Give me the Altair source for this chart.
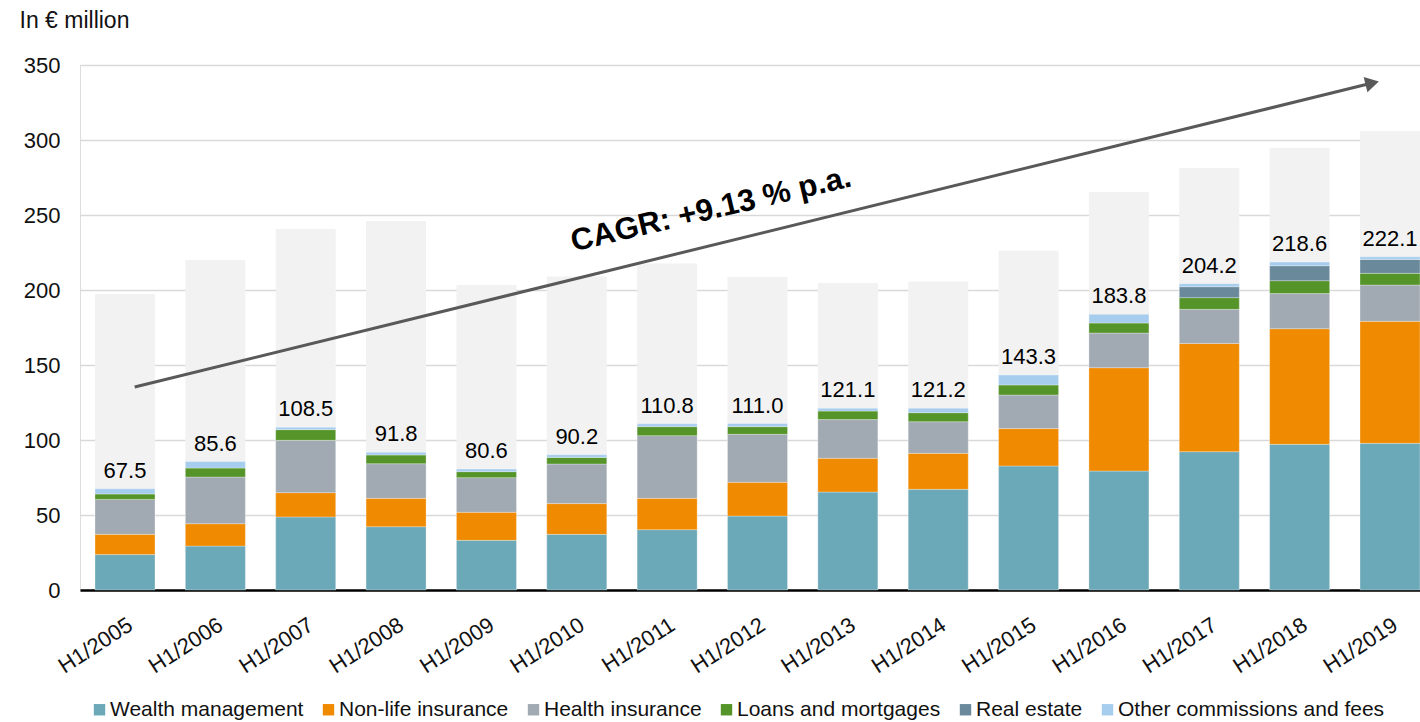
import altair as alt
import pandas as pd

# Half-year periods on the x axis
periods = [
    "H1/2005", "H1/2006", "H1/2007", "H1/2008", "H1/2009",
    "H1/2010", "H1/2011", "H1/2012", "H1/2013", "H1/2014",
    "H1/2015", "H1/2016", "H1/2017", "H1/2018", "H1/2019",
]

# Commission income by source, in EUR million
wealth = [23.6, 29.3, 48.7, 42.2, 33.1, 37.1, 40.2, 49.3, 65.3, 67.1, 82.7, 79.3, 92.2, 97.1, 97.8]
nonlife = [13.5, 14.9, 16.2, 18.9, 18.7, 20.5, 20.9, 22.5, 22.5, 24.0, 24.9, 68.9, 72.2, 77.1, 81.3]
health = [23.3, 31.1, 34.9, 23.1, 23.1, 26.4, 41.8, 32.0, 25.8, 21.1, 22.4, 23.1, 22.7, 23.4, 24.2]
loans = [3.6, 6.0, 7.1, 5.8, 4.0, 4.4, 6.0, 5.1, 5.7, 6.0, 6.7, 6.7, 7.8, 8.6, 7.8]
real_estate = [0.0, 0.0, 0.0, 0.0, 0.0, 0.0, 0.0, 0.0, 0.0, 0.0, 0.0, 0.0, 7.3, 10.0, 9.3]
other = [3.5, 4.3, 1.6, 1.8, 1.7, 1.8, 1.9, 2.1, 1.8, 3.0, 6.6, 5.8, 2.0, 2.4, 1.7]

# Light backdrop column behind each stack
backdrop = [197.3, 220.0, 240.7, 246.0, 203.3, 209.0, 217.6, 208.7, 204.7, 205.6, 226.2, 265.3, 281.3, 294.9, 306.0]

series_names = [
    "Wealth management", "Non-life insurance", "Health insurance",
    "Loans and mortgages", "Real estate", "Other commissions and fees",
]
series_colors = ["#6ba8b8", "#f08a00", "#a1aab2", "#559429", "#6a8a9c", "#a7cdee"]
series_values = [wealth, nonlife, health, loans, real_estate, other]

# Growth arrow and its caption
arrow_from = ["H1/2005", 135.3]
arrow_to = ["H1/2019", 339.1]
cagr_text = "CAGR: +9.13 % p.a."
cagr_anchor = ["H1/2011", 253.3]

FONT = "Liberation Sans"

rows = []
for i, p in enumerate(periods):
    for k, (name, vals) in enumerate(zip(series_names, series_values)):
        if vals[i] > 0:
            rows.append({"period": p, "segment": name, "value": vals[i], "order": k})
stack_df = pd.DataFrame(rows)

totals = [round(sum(v[i] for v in series_values), 1) for i in range(len(periods))]
total_df = pd.DataFrame({"period": periods, "total": totals, "backdrop": backdrop})

arrow_df = pd.DataFrame({
    "x0": [arrow_from[0]], "y0": [arrow_from[1]],
    "x1": [arrow_to[0]], "y1": [arrow_to[1]],
})
cagr_df = pd.DataFrame({"px": [cagr_anchor[0]], "py": [cagr_anchor[1]], "label": [cagr_text]})

x_scale = alt.Scale(domain=periods, paddingInner=0.336, paddingOuter=0.083, align=1)
y_scale = alt.Scale(domain=[0, 350], nice=False)

x_axis = alt.Axis(
    title=None, labelAngle=327, labelAlign="right", labelBaseline="top",
    labelFontSize=22, labelFont=FONT, labelColor="#111111", labelPadding=24,
    ticks=False, tickSize=0, domainColor="#000000", domainWidth=2.5, grid=False,
)
y_axis = alt.Axis(
    title="In € million", titleAngle=0, titleAlign="left", titleBaseline="middle",
    titleX=-61, titleY=-45, titleFont=FONT, titleFontSize=23, titleFontWeight="normal",
    titleColor="#111111",
    values=[0, 50, 100, 150, 200, 250, 300, 350],
    labelFontSize=22, labelFont=FONT, labelColor="#111111", labelPadding=20,
    ticks=False, tickSize=0, domain=False,
    grid=True, gridColor="#d9d9d9", gridWidth=1.5,
)

X = lambda f: alt.X(f, type="nominal", scale=x_scale, axis=x_axis, sort=periods)

backdrop_bars = alt.Chart(total_df).mark_bar(color="#f2f2f2").encode(
    x=X("period"),
    y=alt.Y("backdrop:Q", scale=y_scale, axis=y_axis),
)

stacked = alt.Chart(stack_df).mark_bar(stroke="#ffffff", strokeWidth=0.5, strokeOpacity=0.6).encode(
    x=X("period"),
    y=alt.Y("value:Q", stack="zero", scale=y_scale, axis=y_axis),
    color=alt.Color(
        "segment:N",
        scale=alt.Scale(domain=series_names, range=series_colors),
        legend=alt.Legend(
            title=None, orient="none", direction="horizontal", columns=6,
            legendX=9, legendY=634, symbolType="square", symbolSize=130,
            symbolStrokeWidth=0, labelFont=FONT, labelFontSize=21, labelLimit=500,
            labelColor="#111111", labelOffset=0, columnPadding=14,
        ),
    ),
    order=alt.Order("order:Q", sort="ascending"),
)

total_labels = alt.Chart(total_df).mark_text(
    fontSize=22, font=FONT, color="#000000", baseline="alphabetic", dy=-11
).encode(
    x=X("period"),
    y=alt.Y("total:Q", scale=y_scale, axis=y_axis),
    text=alt.Text("total:Q", format=".1f"),
)

arrow_line = alt.Chart(arrow_df).mark_rule(
    color="#595959", strokeWidth=3, xOffset=9.7, x2Offset=-17.8, y2Offset=1.7
).encode(
    x=alt.X("x0:N", scale=x_scale, axis=x_axis, sort=periods, bandPosition=0.5),
    x2=alt.X2("x1", bandPosition=0.5),
    y=alt.Y("y0:Q", scale=y_scale, axis=y_axis),
    y2="y1:Q",
)

arrow_head = alt.Chart(arrow_df).mark_point(
    shape="triangle-up", size=250, filled=True, color="#595959", opacity=1,
    strokeWidth=0, angle=76.2, xOffset=-17.8, yOffset=1.7,
).encode(
    x=X("x1"),
    y=alt.Y("y1:Q", scale=y_scale, axis=y_axis),
)

cagr_label = alt.Chart(cagr_df).mark_text(
    font=FONT, fontSize=31, fontWeight="bold", color="#000000",
    align="center", baseline="middle", angle=346.8, xOffset=44,
).encode(
    x=X("px"),
    y=alt.Y("py:Q", scale=y_scale, axis=y_axis),
    text="label:N",
)

chart = alt.layer(
    backdrop_bars, stacked, total_labels, arrow_line, arrow_head, cagr_label
).properties(
    width=1340, height=525,
    autosize=alt.AutoSizeParams(type="none"),
    padding={"left": 80, "top": 65, "right": 0, "bottom": 132},
).configure_view(stroke=None).configure(background="#ffffff")

chart.save("out.html", embed_options={"renderer": "svg", "actions": False})
